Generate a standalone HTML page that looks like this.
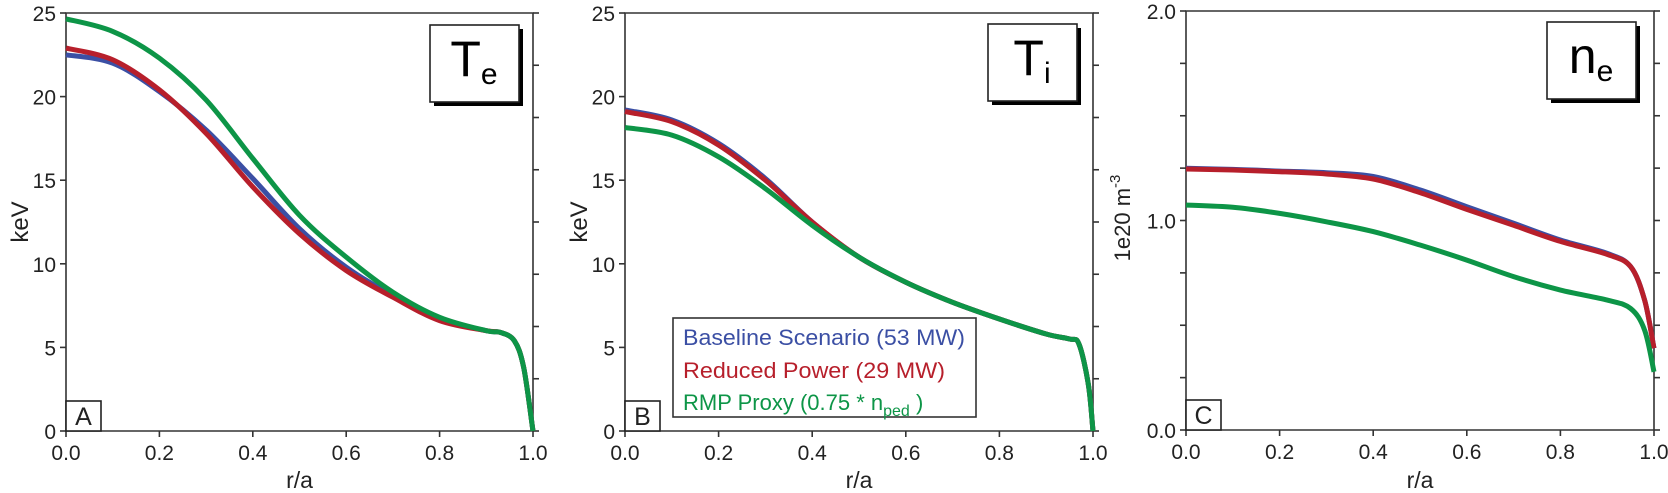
<!DOCTYPE html>
<html><head><meta charset="utf-8"><style>
html,body{margin:0;padding:0;background:#fff}
svg{display:block}
text{font-family:"Liberation Sans",sans-serif}
</style></head><body>
<svg id="chart" width="1668" height="493" viewBox="0 0 1668 493" xmlns="http://www.w3.org/2000/svg"></svg>
<script>
const rGrid = [0,0.1,0.2,0.3,0.4,0.5,0.6,0.7,0.8,0.9,0.93,0.96,0.98,1.0];
const teBlue  = [22.5,22.0,20.3,18.0,15.1,12.1,9.8,8.1,6.7,6.0,5.9,5.4,3.8,0];
const teRed   = [22.9,22.2,20.4,17.8,14.6,11.8,9.6,8.0,6.6,6.0,5.9,5.4,3.8,0];
const teGreen = [24.65,23.9,22.3,19.8,16.3,12.9,10.4,8.3,6.8,6.0,5.9,5.4,3.8,0];
const rGridTi = [0,0.1,0.2,0.3,0.4,0.5,0.6,0.7,0.8,0.9,0.95,0.97,0.99,1.0];
const tiBlue  = [19.2,18.6,17.2,15.1,12.5,10.4,8.9,7.7,6.7,5.8,5.5,5.2,2.8,0];
const tiRed   = [19.1,18.5,17.1,15.0,12.5,10.4,8.9,7.7,6.7,5.8,5.5,5.2,2.8,0];
const tiGreen = [18.15,17.7,16.4,14.5,12.3,10.4,8.9,7.7,6.7,5.8,5.5,5.2,2.8,0];
const rGridNe = [0,0.1,0.2,0.3,0.4,0.5,0.6,0.7,0.8,0.9,0.95,0.98,1.0];
const neBlue  = [1.249,1.244,1.236,1.228,1.21,1.146,1.066,0.987,0.907,0.843,0.78,0.62,0.39];
const neRed   = [1.246,1.241,1.233,1.222,1.198,1.133,1.053,0.977,0.9,0.838,0.78,0.62,0.39];
const neGreen = [1.074,1.063,1.034,0.994,0.947,0.883,0.811,0.732,0.668,0.62,0.58,0.477,0.278];
const xTicks = ["0.0","0.2","0.4","0.6","0.8","1.0"];
const tempTicks = ["0","5","10","15","20","25"];
const neTicks = ["0.0","1.0","2.0"];

const NS="http://www.w3.org/2000/svg";
const svg=document.getElementById('chart');
function mk(tag,attrs,parent){const e=document.createElementNS(NS,tag);for(const k in attrs)e.setAttribute(k,attrs[k]);(parent||svg).appendChild(e);return e;}
const COL={blue:"#3b4fa4",red:"#b71f2b",green:"#0d9547"};

function smooth(pts){
  let d="M"+pts[0][0].toFixed(1)+","+pts[0][1].toFixed(1);
  for(let i=0;i<pts.length-1;i++){
    const p0=pts[Math.max(0,i-1)],p1=pts[i],p2=pts[i+1],p3=pts[Math.min(pts.length-1,i+2)];
    const c1=[p1[0]+(p2[0]-p0[0])/6,p1[1]+(p2[1]-p0[1])/6];
    const c2=[p2[0]-(p3[0]-p1[0])/6,p2[1]-(p3[1]-p1[1])/6];
    d+="C"+c1[0].toFixed(1)+","+c1[1].toFixed(1)+" "+c2[0].toFixed(1)+","+c2[1].toFixed(1)+" "+p2[0].toFixed(1)+","+p2[1].toFixed(1);
  }
  return d;
}

function panel(o){
  const g=mk('g',{});
  
  
  const xs=v=>o.x0+v*(o.x1-o.x0);
  const ys=v=>o.yb-(v/o.ymax)*(o.yb-o.yt);
  const fr=mk('path',{d:`M${o.x0},${o.yt}H${o.x1}V${o.yb}H${o.x0}Z`,fill:"none",stroke:"#333","stroke-width":1.6},g);
  
  
  xTicks.forEach((t,i)=>{
    const v=i/(xTicks.length-1);
    mk('line',{x1:xs(v),x2:xs(v),y1:o.yb,y2:o.yb+6,stroke:"#333","stroke-width":1.6},g);
    const tx=mk('text',{x:xs(v),y:o.yb+29,"font-size":21,"text-anchor":"middle",fill:"#222"},g);
    tx.textContent=t;
    
    
  });
  const xt=mk('text',{x:(o.x0+o.x1)/2,y:488,"font-size":23,"text-anchor":"middle",fill:"#222"},g);
  xt.textContent="r/a";
  
  
  o.ticks.forEach((t,i)=>{
    const v=i*o.ymax/(o.ticks.length-1);
    const tl=mk('text',{x:o.x0-10,y:ys(v)+8,"font-size":21,"text-anchor":"end",fill:"#222"},g);
    tl.textContent=t;
    
    
  });
  for(let i=0;i<=o.leftN;i++){const y=o.yt+i*(o.yb-o.yt)/o.leftN;mk('line',{x1:o.x0-6,x2:o.x0,y1:y,y2:y,stroke:"#333","stroke-width":1.6},g);}
  for(let i=0;i<=8;i++){const y=o.yt+i*(o.yb-o.yt)/8;mk('line',{x1:o.x1,x2:o.x1+6,y1:y,y2:y,stroke:"#333","stroke-width":1.6},g);}
  const yt=mk('text',{x:0,y:0,"font-size":o.ylFont,"text-anchor":"middle",fill:"#222",transform:`translate(${o.ylx},${o.yly}) rotate(-90)`},g);
  yt.innerHTML=o.ylabel;
  
  
  [["blue",o.blue],["red",o.red],["green",o.green]].forEach(([c,arr])=>{
    const pts=arr.map((v,i)=>[xs(o.grid[i]),ys(v)]);
    const p=mk('path',{d:smooth(pts),fill:"none",stroke:COL[c],"stroke-width":5,"stroke-linejoin":"round"},g);
    
    
  });
  const lb=mk('rect',{x:o.x0,y:o.yb-30,width:35,height:30,fill:"#fff",stroke:"#222","stroke-width":1.6},g);
  
  
  const lt=mk('text',{x:o.x0+17.5,y:o.yb-6,"font-size":25,"text-anchor":"middle",fill:"#222"},g);
  lt.textContent=o.letter;
  
  
  const bx=o.tbx,by=o.tby;
  mk('rect',{x:bx+4,y:by+4,width:89,height:77,fill:"#000"},g);
  const tb=mk('rect',{x:bx,y:by,width:89,height:77,fill:"#fff",stroke:"#222","stroke-width":1.6},g);
  
  
  const tt=mk('text',{x:bx+44,y:by+51,"font-size":50,"text-anchor":"middle",fill:"#000"},g);
  tt.innerHTML=o.title;
  
  
}

panel({name:"panel-te",x0:66,x1:533,yt:13,yb:431,ymax:25,ticks:tempTicks,leftN:5,grid:rGrid,blue:teBlue,red:teRed,green:teGreen,
  ylabel:"keV",ylFont:24,ylx:28,yly:222,letter:"A",tbx:430,tby:25,title:'T<tspan font-size="30" dy="8">e</tspan>'});
panel({name:"panel-ti",x0:625,x1:1093,yt:13,yb:431,ymax:25,ticks:tempTicks,leftN:5,grid:rGridTi,blue:tiBlue,red:tiRed,green:tiGreen,
  ylabel:"keV",ylFont:24,ylx:587,yly:222,letter:"B",tbx:988,tby:24,title:'T<tspan font-size="30" dy="8">i</tspan>'});
panel({name:"panel-ne",x0:1186,x1:1654,yt:11,yb:430,ymax:2,ticks:neTicks,leftN:8,grid:rGridNe,blue:neBlue,red:neRed,green:neGreen,
  ylabel:'1e20 m<tspan font-size="15" dy="-10">-3</tspan>',ylFont:22,ylx:1130,yly:218,letter:"C",tbx:1547,tby:22,title:'n<tspan font-size="30" dy="8">e</tspan>'});

const lg=mk('g',{});


mk('rect',{x:673,y:318,width:303,height:99,fill:"#fff",stroke:"#333","stroke-width":1.6},lg);
const l1=mk('text',{x:683,y:345,"font-size":22,fill:COL.blue,textLength:282,lengthAdjust:"spacingAndGlyphs"},lg);
l1.textContent="Baseline Scenario (53 MW)";


const l2=mk('text',{x:683,y:378,"font-size":22,fill:COL.red,textLength:262,lengthAdjust:"spacingAndGlyphs"},lg);
l2.textContent="Reduced Power (29 MW)";


const l3=mk('text',{x:683,y:410,"font-size":22,fill:COL.green},lg);
l3.innerHTML='RMP Proxy (0.75 * n<tspan font-size="16" dy="6">ped</tspan><tspan dy="-6"> )</tspan>';


</script>
</body></html>
